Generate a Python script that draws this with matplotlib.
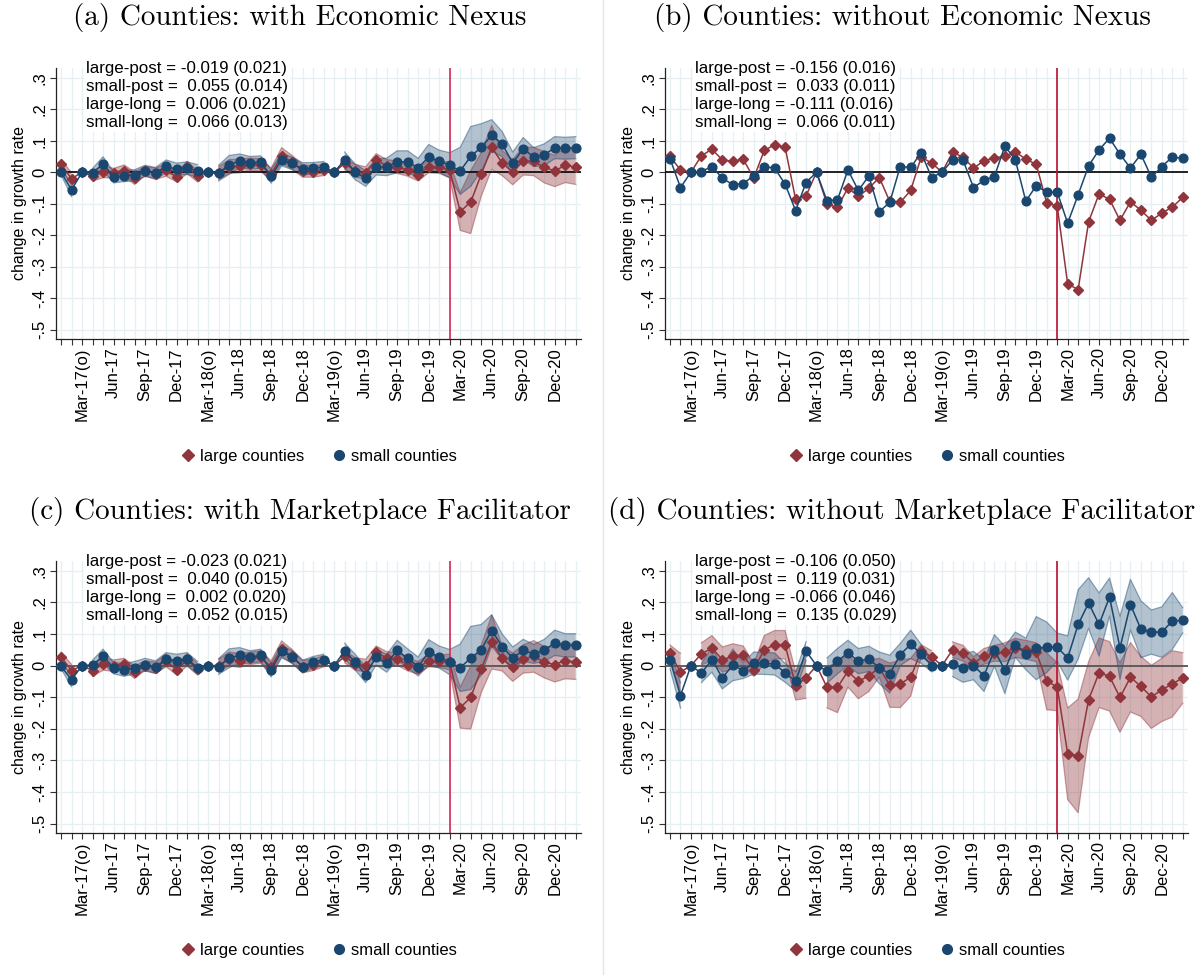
import numpy as np
import matplotlib
matplotlib.use("Agg")
import matplotlib.pyplot as plt
from matplotlib.lines import Line2D

plt.rcParams['font.family'] = ['Liberation Sans', 'DejaVu Sans']

# x axis: monthly, Jan-17 .. Feb-21, labels every 3 months from Mar-17
tick_labels = ["Mar-17(o)", "Jun-17", "Sep-17", "Dec-17", "Mar-18(o)", "Jun-18",
               "Sep-18", "Dec-18", "Mar-19(o)", "Jun-19", "Sep-19", "Dec-19",
               "Mar-20", "Jun-20", "Sep-20", "Dec-20"]
y_ticks = [-0.5, -0.4, -0.3, -0.2, -0.1, 0.0, 0.1, 0.2, 0.3]
y_labels = ["-.5", "-.4", "-.3", "-.2", "-.1", "0", ".1", ".2", ".3"]
event_month = 37  # Feb-20

# (a) with economic nexus
large_a = [0.025, -0.021, 0, -0.013, 0.002, -0.003, 0.005, -0.019, 0.004, -0.005,
           0.007, -0.016, 0.015, -0.013, 0, -0.003, 0.018, 0.02, 0.025, 0.023,
           -0.007, 0.053, 0.031, 0.004, 0.002, 0.007, 0, 0.028, 0.005, -0.003,
           0.039, 0.02, 0.016, 0.007, -0.008, 0.018, 0.016, 0.007, -0.125, -0.095,
           -0.007, 0.079, 0.029, 0.0, 0.036, 0.034, 0.016, 0.004, 0.022, 0.016]
small_a = [0.0, -0.056, 0, -0.003, 0.027, -0.016, -0.012, -0.01, 0.004, -0.003,
           0.019, 0.009, 0.013, 0.004, 0, -0.003, 0.023, 0.036, 0.03, 0.032,
           -0.013, 0.04, 0.028, 0.01, 0.013, 0.016, 0, 0.039, 0.001, -0.02,
           0.016, 0.017, 0.033, 0.033, 0.014, 0.048, 0.035, 0.022, 0.004, 0.05,
           0.079, 0.117, 0.089, 0.029, 0.075, 0.048, 0.055, 0.078, 0.076, 0.078]
large_a_ci = [0.015, 0.02, None, 0.015, 0.02, 0.015, 0.018, 0.02, 0.015, 0.018,
              0.02, 0.015, 0.02, 0.018, None, 0.02, 0.022, 0.022, 0.02, 0.02,
              0.02, 0.025, 0.022, 0.02, 0.018, 0.018, None, 0.02, 0.02, 0.02,
              0.02, 0.02, 0.02, 0.02, 0.02, 0.02, 0.02, 0.025, 0.06, 0.1,
              0.07, 0.07, 0.04, 0.04, 0.045, 0.045, 0.05, 0.05, 0.055, 0.055]
small_a_ci = [0.008, 0.022, None, 0.015, 0.022, 0.018, 0.018, 0.018, 0.018, 0.018,
              0.02, 0.02, 0.02, 0.02, None, 0.025, 0.03, 0.022, 0.02, 0.02,
              0.022, 0.02, 0.02, 0.02, 0.018, 0.018, None, 0.025, 0.025, 0.025,
              0.025, 0.028, 0.035, 0.035, 0.03, 0.04, 0.035, 0.04, 0.075, 0.095,
              0.075, 0.05, 0.04, 0.035, 0.035, 0.03, 0.035, 0.035, 0.035, 0.035]
stats_a = ["large-post = -0.019 (0.021)", "small-post =  0.055 (0.014)",
           "large-long =  0.006 (0.021)", "small-long =  0.066 (0.013)"]

# (b) without economic nexus
large_b = [0.05, 0.007, 0, 0.052, 0.073, 0.039, 0.034, 0.041, -0.019, 0.069,
           0.087, 0.079, -0.086, -0.075, 0, -0.101, -0.112, -0.05, -0.077, -0.051,
           -0.017, -0.093, -0.096, -0.058, 0.048, 0.029, 0, 0.063, 0.048, 0.013,
           0.036, 0.046, 0.05, 0.065, 0.041, 0.025, -0.098, -0.107, -0.355, -0.373,
           -0.158, -0.069, -0.086, -0.153, -0.094, -0.121, -0.153, -0.13, -0.111, -0.08]
small_b = [0.043, -0.049, 0, 0.002, 0.018, -0.019, -0.04, -0.036, -0.011, 0.018,
           0.013, -0.038, -0.122, -0.033, 0, -0.091, -0.088, 0.007, -0.058, -0.012,
           -0.125, -0.096, 0.018, 0.015, 0.062, -0.017, 0, 0.039, 0.039, -0.049,
           -0.026, -0.014, 0.083, 0.039, -0.092, -0.043, -0.064, -0.063, -0.162, -0.072,
           0.02, 0.071, 0.108, 0.057, 0.013, 0.057, -0.016, 0.018, 0.048, 0.044]
stats_b = ["large-post = -0.156 (0.016)", "small-post =  0.033 (0.011)",
           "large-long = -0.111 (0.016)", "small-long =  0.066 (0.011)"]

# (c) with marketplace facilitator
large_c = [0.027, -0.016, 0, -0.016, 0.005, 0, 0.005, -0.021, 0, -0.007,
           0.016, -0.014, 0.018, -0.012, 0, 0, 0.021, 0.016, 0.023, 0.027,
           -0.005, 0.053, 0.029, -0.003, 0.002, 0.014, 0, 0.029, 0.005, 0,
           0.042, 0.024, 0.021, 0.003, -0.007, 0.016, 0.014, 0.011, -0.133, -0.101,
           -0.011, 0.074, 0.023, -0.005, 0.021, 0.029, 0.011, 0.003, 0.016, 0.011]
small_c = [-0.002, -0.045, 0, 0.002, 0.03, -0.008, -0.014, -0.007, 0.003, -0.005,
           0.021, 0.016, 0.021, -0.007, 0, -0.003, 0.023, 0.032, 0.027, 0.032,
           -0.014, 0.045, 0.027, -0.003, 0.011, 0.018, 0, 0.046, 0.011, -0.029,
           0.027, 0.007, 0.048, 0.023, -0.003, 0.042, 0.027, 0.011, -0.007, 0.024,
           0.05, 0.111, 0.06, 0.024, 0.048, 0.037, 0.048, 0.072, 0.064, 0.064]
large_c_ci = [0.015, 0.02, None, 0.018, 0.02, 0.018, 0.018, 0.02, 0.015, 0.018,
              0.02, 0.015, 0.02, 0.018, None, 0.02, 0.022, 0.022, 0.02, 0.02,
              0.02, 0.025, 0.022, 0.02, 0.018, 0.018, None, 0.02, 0.02, 0.02,
              0.02, 0.02, 0.02, 0.02, 0.02, 0.02, 0.02, 0.025, 0.065, 0.1,
              0.075, 0.085, 0.04, 0.045, 0.045, 0.05, 0.05, 0.055, 0.058, 0.055]
small_c_ci = [0.008, 0.022, None, 0.015, 0.022, 0.018, 0.02, 0.02, 0.02, 0.02,
              0.02, 0.02, 0.02, 0.02, None, 0.025, 0.03, 0.025, 0.02, 0.02,
              0.022, 0.02, 0.02, 0.02, 0.018, 0.018, None, 0.025, 0.025, 0.025,
              0.025, 0.028, 0.032, 0.03, 0.03, 0.04, 0.035, 0.04, 0.075, 0.1,
              0.08, 0.05, 0.04, 0.035, 0.035, 0.03, 0.035, 0.04, 0.037, 0.037]
stats_c = ["large-post = -0.023 (0.021)", "small-post =  0.040 (0.015)",
           "large-long =  0.002 (0.020)", "small-long =  0.052 (0.015)"]

# (d) without marketplace facilitator
large_d = [0.04, -0.021, 0, 0.037, 0.055, 0.019, 0.029, 0.032, -0.014, 0.05,
           0.066, 0.066, -0.064, -0.039, 0, -0.069, -0.069, -0.018, -0.05, -0.032,
           -0.007, -0.062, -0.058, -0.037, 0.046, 0.027, 0, 0.05, 0.039, 0.008,
           0.029, 0.039, 0.042, 0.056, 0.05, 0.042, -0.05, -0.067, -0.279, -0.286,
           -0.108, -0.023, -0.034, -0.101, -0.037, -0.066, -0.099, -0.077, -0.058, -0.039]
small_d = [0.019, -0.095, 0, -0.024, 0.019, -0.039, 0.002, -0.016, 0.008, 0.007,
           0.005, -0.023, -0.05, 0.046, 0, -0.016, 0.014, 0.04, 0.014, 0.021,
           -0.007, -0.027, 0.035, 0.067, 0.037, 0, 0, 0.005, -0.008, 0,
           -0.032, 0.048, -0.014, 0.066, 0.037, 0.055, 0.058, 0.058, 0.024, 0.13,
           0.198, 0.13, 0.217, 0.056, 0.193, 0.115, 0.106, 0.106, 0.141, 0.143]
large_d_ci = [0.025, 0.06, None, 0.035, 0.04, 0.04, 0.04, 0.03, 0.02, 0.045,
              0.045, 0.045, 0.045, 0.065, None, 0.065, 0.08, 0.05, 0.055, 0.05,
              0.03, 0.07, 0.075, 0.06, 0.02, 0.02, None, 0.025, 0.025, 0.02,
              0.025, 0.025, 0.03, 0.03, 0.03, 0.03, 0.09, 0.076, 0.145, 0.18,
              0.12, 0.11, 0.11, 0.11, 0.11, 0.095, 0.1, 0.1, 0.105, 0.08]
small_d_ci = [0.03, 0.04, None, 0.03, 0.04, 0.035, 0.05, 0.025, 0.035, 0.035,
              0.035, 0.03, 0.03, 0.03, None, 0.04, 0.04, 0.04, 0.04, 0.04,
              0.05, 0.06, 0.035, 0.045, 0.03, 0.02, None, 0.04, 0.045, 0.045,
              0.05, 0.05, 0.075, 0.04, 0.05, 0.1, 0.08, 0.045, 0.07, 0.11,
              0.08, 0.1, 0.06, 0.1, 0.08, 0.09, 0.07, 0.08, 0.09, 0.04]
stats_d = ["large-post = -0.106 (0.050)", "small-post =  0.119 (0.031)",
           "large-long = -0.066 (0.046)", "small-long =  0.135 (0.029)"]

RED = '#90353B'
BLUE = '#1A476F'
GRID = '#E6EFF1'
W, H = 1204, 975


def draw_panel(ax, large, small, large_ci, small_ci, stats, zero_c, event_c):
    x = np.arange(len(large))
    large = np.array(large, dtype=float)
    small = np.array(small, dtype=float)

    ax.set_xlim(-0.48, 49.5)
    ax.set_ylim(-0.53, 0.331)
    ax.set_xticks(x, minor=True)
    ax.set_xticks(x[2::3])
    ax.set_xticklabels(tick_labels, rotation=90, fontsize=12)
    ax.set_yticks(y_ticks)
    ax.set_yticklabels(y_labels, rotation=90, va='center', fontsize=12)
    ax.tick_params(axis='both', which='both', length=4, width=0.8, color='#333333')
    ax.tick_params(axis='x', which='both', pad=2)
    ax.tick_params(axis='y', pad=2)
    ax.grid(True, which='both', axis='x', color=GRID, lw=0.9, zorder=0)
    ax.grid(True, which='major', axis='y', color=GRID, lw=0.9, zorder=0)
    for s in ['top', 'right']:
        ax.spines[s].set_visible(False)
    for s in ['left', 'bottom']:
        ax.spines[s].set_color('#222222')
        ax.spines[s].set_linewidth(0.9)

    if large_ci is not None:
        lc = np.array(large_ci, dtype=float)
        sc = np.array(small_ci, dtype=float)
        ax.fill_between(x, large - lc, large + lc, facecolor=RED, alpha=0.38,
                        edgecolor='none', zorder=2)
        ax.fill_between(x, small - sc, small + sc, facecolor=BLUE, alpha=0.33,
                        edgecolor='none', zorder=2)
        for y0, c, col in [(large, lc, RED), (small, sc, BLUE)]:
            ax.plot(x, y0 - c, color=col, alpha=0.45, lw=0.9, zorder=2)
            ax.plot(x, y0 + c, color=col, alpha=0.45, lw=0.9, zorder=2)

    ax.axhline(0, color=zero_c, lw=1.3, zorder=3)
    ax.axvline(event_month, color=event_c, lw=1.2, zorder=3)

    ax.plot(x, large, color=RED, lw=1.1, marker='D', ms=5.4, zorder=4)
    ax.plot(x, small, color=BLUE, lw=1.1, marker='o', ms=6.3, zorder=5)

    ax.text(0.058, 1.025, "\n".join(stats), transform=ax.transAxes, va='top',
            ha='left', fontsize=12.2, linespacing=1.25, zorder=6,
            bbox=dict(facecolor='white', edgecolor='none', pad=1.5))

    ax.set_ylabel('change in growth rate', fontsize=11.5, labelpad=4)

    mk_l = Line2D([], [], color=RED, marker='D', ls='none', ms=6.5)
    mk_s = Line2D([], [], color=BLUE, marker='o', ls='none', ms=7)
    ax.legend([mk_l, mk_s], ['large counties', 'small counties'], loc='center',
              bbox_to_anchor=(0.5, -0.432), ncol=2, frameon=False, fontsize=12,
              handletextpad=0.2, columnspacing=1.6, handlelength=1.0)


fig = plt.figure(figsize=(W / 100, H / 100), dpi=100)


def px_axes(l, t, r, b):
    return fig.add_axes([l / W, 1 - b / H, (r - l) / W, (b - t) / H])


ax_a = px_axes(56, 68, 581, 339)
ax_b = px_axes(665, 68, 1188, 339)
ax_c = px_axes(56, 561, 581, 833)
ax_d = px_axes(665, 561, 1188, 833)

draw_panel(ax_a, large_a, small_a, large_a_ci, small_a_ci, stats_a, '#111111', '#D42A55')
draw_panel(ax_b, large_b, small_b, None, None, stats_b, '#111111', '#B81030')
draw_panel(ax_c, large_c, small_c, large_c_ci, small_c_ci, stats_c, '#555555', '#D42A55')
draw_panel(ax_d, large_d, small_d, large_d_ci, small_d_ci, stats_d, '#555555', '#B81030')

titles = ["(a) Counties: with Economic Nexus", "(b) Counties: without Economic Nexus",
          "(c) Counties: with Marketplace Facilitator",
          "(d) Counties: without Marketplace Facilitator"]
title_pos = [(300, 18), (902, 18), (300, 511), (902, 511)]
for t, (tx, ty) in zip(titles, title_pos):
    fig.text(tx / W, 1 - ty / H, t, ha='center', va='center', fontsize=21,
             family='cmr10')

fig.add_artist(Line2D([603 / W, 603 / W], [0, 1], color='#E4E4E4', lw=1))

fig.savefig('out.png', dpi=100)
